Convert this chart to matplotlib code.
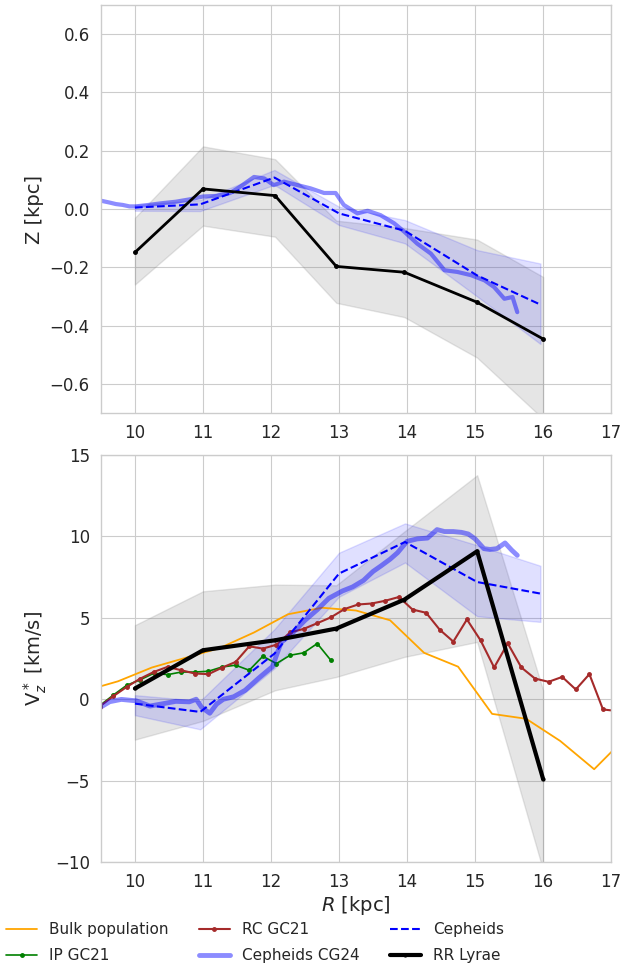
import numpy as np
import matplotlib
matplotlib.use("Agg")
import matplotlib.pyplot as plt

# ── RR Lyrae (bins) ─────────────────────────────────────────────
R_rr = [10.0, 11.0, 12.06, 12.96, 13.96, 15.03, 16.0]
z_rr = [-0.149, 0.069, 0.046, -0.197, -0.217, -0.32, -0.446]
z_rr_hi = [-0.03, 0.215, 0.171, -0.04, -0.065, -0.105, -0.233]
z_rr_lo = [-0.259, -0.057, -0.095, -0.322, -0.371, -0.51, -0.72]
v_rr = [0.66, 3.01, 3.62, 4.34, 6.12, 9.09, -4.91]
v_rr_hi = [4.55, 6.63, 7.04, 7.0, 10.3, 13.76, 0.55]
v_rr_lo = [-2.48, -1.33, 0.55, 1.37, 2.6, 3.52, -10.5]

# ── Cepheids (bins) ─────────────────────────────────────────────
R_ceph = [10.0, 10.96, 12.05, 13.0, 13.97, 15.03, 15.96]
z_ceph = [0.005, 0.016, 0.108, -0.015, -0.075, -0.228, -0.328]
z_ceph_hi = [0.014, 0.031, 0.134, 0.008, -0.038, -0.141, -0.187]
z_ceph_lo = [-0.006, -0.007, 0.083, -0.055, -0.118, -0.30, -0.463]
v_ceph = [-0.27, -0.78, 2.8, 7.72, 9.66, 7.2, 6.49]
v_ceph_hi = [0.25, -0.1, 4.3, 9.0, 10.8, 9.46, 8.2]
v_ceph_lo = [-0.98, -1.85, 1.9, 6.3, 8.4, 5.1, 4.75]

# ── Cepheids CG24 (running profile) ─────────────────────────────
R_cg_z = [9.51, 9.63, 9.72, 9.82, 9.92, 10.01, 10.2, 10.4, 10.6, 10.8, 11.0,
          11.2, 11.4, 11.55, 11.75, 11.9, 12.04, 12.19, 12.39, 12.58, 12.78,
          12.95, 13.07, 13.27, 13.42, 13.61, 13.81, 13.96, 14.15, 14.35,
          14.55, 14.74, 14.94, 15.14, 15.28, 15.43, 15.55, 15.62]
z_cg = [0.028, 0.022, 0.017, 0.014, 0.009, 0.009, 0.014, 0.02, 0.025, 0.033,
        0.043, 0.045, 0.055, 0.077, 0.11, 0.105, 0.082, 0.094, 0.082, 0.071,
        0.055, 0.055, 0.014, -0.015, -0.006, -0.021, -0.049, -0.078, -0.119,
        -0.153, -0.21, -0.216, -0.227, -0.245, -0.268, -0.308, -0.302, -0.354]
R_cg_v = [9.51, 9.63, 9.8, 10.02, 10.22, 10.42, 10.6, 10.8, 10.9, 10.98, 11.1,
          11.2, 11.3, 11.45, 11.62, 11.82, 12.02, 12.15, 12.3, 12.5, 12.68,
          12.85, 13.05, 13.2, 13.36, 13.5, 13.62, 13.75, 13.86, 14.0, 14.15,
          14.3, 14.44, 14.55, 14.68, 14.8, 14.9, 15.0, 15.13, 15.22, 15.32,
          15.44, 15.54, 15.62]
v_cg = [-0.45, -0.15, -0.01, -0.1, -0.42, -0.27, -0.13, -0.16, 0.0, -0.5,
        -0.86, -0.3, 0.0, 0.15, 0.55, 1.3, 2.0, 3.5, 4.0, 4.85, 5.5, 6.2, 6.65,
        6.9, 7.3, 7.85, 8.2, 8.6, 9.0, 9.7, 9.85, 9.9, 10.42, 10.3, 10.3, 10.25,
        10.15, 9.85, 9.25, 9.2, 9.25, 9.6, 9.15, 8.84]

# ── Bulk population ─────────────────────────────────────────────
R_bulk = [9.25, 9.75, 10.25, 10.75, 11.25, 11.75, 12.25, 12.75, 13.25, 13.75,
          14.25, 14.75, 15.25, 15.75, 16.25, 16.75, 17.25]
v_bulk = [0.5, 1.1, 1.95, 2.55, 3.15, 4.1, 5.22, 5.62, 5.45, 4.85, 2.85, 2.0,
          -0.9, -1.2, -2.56, -4.3, -2.2]

# ── GC21 red clump / intermediate population ────────────────────
R_rc = [9.48, 9.68, 9.88, 10.08, 10.28, 10.48, 10.68, 10.88, 11.08, 11.28,
        11.48, 11.68, 11.88, 12.08, 12.28, 12.48, 12.68, 12.88, 13.08, 13.28,
        13.48, 13.68, 13.88, 14.08, 14.28, 14.48, 14.68, 14.88, 15.08, 15.28,
        15.48, 15.68, 15.88, 16.08, 16.28, 16.48, 16.68, 16.88, 17.08]
v_rc = [-0.45, 0.18, 0.76, 1.27, 1.68, 1.99, 1.78, 1.58, 1.54, 1.94, 2.29,
        3.25, 3.11, 3.35, 4.1, 4.32, 4.67, 5.03, 5.54, 5.82, 5.88, 6.05, 6.28,
        5.51, 5.31, 4.27, 3.54, 4.9, 3.62, 1.95, 3.43, 1.95, 1.27, 1.07, 1.37,
        0.6, 1.54, -0.63, -0.72]
R_ip = [9.48, 9.68, 9.88, 10.08, 10.28, 10.48, 10.68, 10.88, 11.08, 11.28,
        11.48, 11.68, 11.88, 12.08, 12.28, 12.48, 12.68, 12.88]
v_ip = [-0.4, 0.25, 0.86, 1.2, 1.6, 1.51, 1.67, 1.67, 1.72, 1.98, 2.09, 1.78,
        2.64, 2.19, 2.7, 2.85, 3.42, 2.39]

plt.style.use("seaborn-v0_8-whitegrid")
plt.rcParams["font.family"] = "DejaVu Sans"
plt.rcParams["text.color"] = ".15"
plt.rcParams["axes.labelcolor"] = ".15"
plt.rcParams["xtick.color"] = ".15"
plt.rcParams["ytick.color"] = ".15"

fig = plt.figure(figsize=(6.23, 9.69), dpi=100)
ax1 = fig.add_axes([0.162, 0.5738, 0.819, 0.421])
ax2 = fig.add_axes([0.162, 0.1104, 0.819, 0.4200])

# top panel: Z(R)
ax1.fill_between(R_rr, z_rr_lo, z_rr_hi, color="gray", alpha=0.2)
ax1.fill_between(R_ceph, z_ceph_lo, z_ceph_hi, color="blue", alpha=0.12)
ax1.plot(R_cg_z, z_cg, color="blue", alpha=0.45, lw=3)
ax1.plot(R_ceph, z_ceph, "--", color="blue", lw=1.5)
ax1.plot(R_rr, z_rr, "-o", color="black", lw=2, ms=2.5)
ax1.set_xlim(9.5, 17)
ax1.set_ylim(-0.7, 0.7)
ax1.set_yticks([-0.6, -0.4, -0.2, 0.0, 0.2, 0.4, 0.6])
ax1.set_ylabel("Z [kpc]", fontsize=14)

# bottom panel: Vz*(R)
ax2.fill_between(R_rr, v_rr_lo, v_rr_hi, color="gray", alpha=0.2)
ax2.fill_between(R_ceph, v_ceph_lo, v_ceph_hi, color="blue", alpha=0.12)
ax2.plot(R_bulk, v_bulk, color="orange", lw=1.3, label="Bulk population")
ax2.plot(R_ip, v_ip, "-o", color="green", lw=1.2, ms=2.5, label="IP GC21")
ax2.plot(R_rc, v_rc, "-o", color="brown", lw=1.5, ms=2.5, label="RC GC21")
ax2.plot(R_cg_v, v_cg, color="blue", alpha=0.45, lw=3.5, label="Cepheids CG24")
ax2.plot(R_ceph, v_ceph, "--", color="blue", lw=1.5, label="Cepheids")
ax2.plot(R_rr, v_rr, "-o", color="black", lw=3, ms=2, label="RR Lyrae")
ax2.set_xlim(9.5, 17)
ax2.set_ylim(-10, 15)
ax2.set_yticks([-10, -5, 0, 5, 10, 15])
ax2.set_xlabel("$R$ [kpc]", fontsize=14, labelpad=2)
ax2.set_ylabel("V$_z^*$ [km/s]", fontsize=14)

for ax in (ax1, ax2):
    ax.tick_params(labelsize=12, pad=8)

fig.legend(*ax2.get_legend_handles_labels(), loc="lower left", ncol=3,
           frameon=False, fontsize=11, bbox_to_anchor=(-0.012, -0.008),
           labelspacing=0.7)

fig.savefig("out.png", dpi=100)
